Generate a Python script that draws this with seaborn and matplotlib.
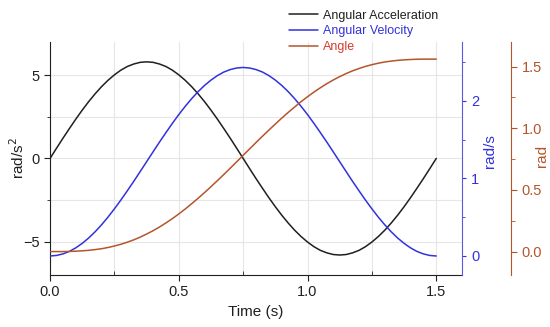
import numpy as np
import pandas as pd
import matplotlib
matplotlib.use("Agg")
import matplotlib.pyplot as plt
from matplotlib.ticker import MultipleLocator
import seaborn as sns

# values (every 0.025 s)
time_s = [0.000, 0.025, 0.050, 0.075, 0.100, 0.125, 0.150, 0.175, 0.200, 0.225,
          0.250, 0.275, 0.300, 0.325, 0.350, 0.375, 0.400, 0.425, 0.450, 0.475,
          0.500, 0.525, 0.550, 0.575, 0.600, 0.625, 0.650, 0.675, 0.700, 0.725,
          0.750, 0.775, 0.800, 0.825, 0.850, 0.875, 0.900, 0.925, 0.950, 0.975,
          1.000, 1.025, 1.050, 1.075, 1.100, 1.125, 1.150, 1.175, 1.200, 1.225,
          1.250, 1.275, 1.300, 1.325, 1.350, 1.375, 1.400, 1.425, 1.450, 1.475,
          1.500]
acceleration = [0.00, 0.61, 1.21, 1.79, 2.36, 2.90, 3.41, 3.88, 4.31, 4.69,
                5.02, 5.30, 5.52, 5.67, 5.77, 5.80, 5.77, 5.67, 5.52, 5.30,
                5.02, 4.69, 4.31, 3.88, 3.41, 2.90, 2.36, 1.79, 1.21, 0.61,
                0.00, -0.61, -1.21, -1.79, -2.36, -2.90, -3.41, -3.88, -4.31, -4.69,
                -5.02, -5.30, -5.52, -5.67, -5.77, -5.80, -5.77, -5.67, -5.52, -5.30,
                -5.02, -4.69, -4.31, -3.88, -3.41, -2.90, -2.36, -1.79, -1.21, -0.61,
                0.00]
velocity = [0.000, 0.007, 0.027, 0.059, 0.105, 0.163, 0.232, 0.312, 0.402, 0.501,
            0.608, 0.721, 0.840, 0.962, 1.088, 1.215, 1.342, 1.468, 1.590, 1.709,
            1.823, 1.929, 2.028, 2.118, 2.198, 2.267, 2.325, 2.371, 2.403, 2.423,
            2.430, 2.423, 2.403, 2.371, 2.325, 2.267, 2.198, 2.118, 2.028, 1.929,
            1.823, 1.709, 1.590, 1.468, 1.342, 1.215, 1.088, 0.962, 0.840, 0.721,
            0.608, 0.501, 0.402, 0.312, 0.232, 0.163, 0.105, 0.059, 0.027, 0.007,
            0.000]
angle = [0.000, 0.000, 0.000, 0.001, 0.003, 0.006, 0.010, 0.016, 0.023, 0.033,
         0.045, 0.059, 0.076, 0.095, 0.117, 0.142, 0.169, 0.199, 0.232, 0.267,
         0.305, 0.345, 0.388, 0.432, 0.478, 0.526, 0.575, 0.625, 0.676, 0.728,
         0.780, 0.832, 0.884, 0.935, 0.985, 1.034, 1.082, 1.128, 1.172, 1.215,
         1.255, 1.293, 1.328, 1.361, 1.391, 1.418, 1.443, 1.465, 1.484, 1.501,
         1.515, 1.527, 1.537, 1.544, 1.550, 1.554, 1.557, 1.559, 1.560, 1.560,
         1.560]
labels = ["Angular Acceleration", "Angular Velocity", "Angle"]

df = pd.DataFrame({"t": time_s, "acc": acceleration, "vel": velocity, "ang": angle})

BLACK = "#202020"
BLUE = "#3232dc"
BROWN = "#b4552d"
RED_TXT = "#d83a2c"

sns.set_style("white")
plt.rcParams["font.family"] = ["Liberation Sans", "DejaVu Sans"]

fig = plt.figure(figsize=(5.5, 3.27), dpi=100)
ax = fig.add_axes([0.091, 0.159, 0.749, 0.713])
ax2 = ax.twinx()
ax3 = ax.twinx()
ax3.spines["right"].set_position(("outward", 35.3))

sns.lineplot(data=df, x="t", y="acc", ax=ax, color=BLACK, lw=1.1, label=labels[0], legend=False)
sns.lineplot(data=df, x="t", y="vel", ax=ax2, color=BLUE, lw=1.1, label=labels[1], legend=False)
sns.lineplot(data=df, x="t", y="ang", ax=ax3, color=BROWN, lw=1.1, label=labels[2], legend=False)

ax.set_xlim(0, 1.6)
ax.set_ylim(-7, 7)
ax2.set_ylim(-0.245, 2.76)
ax3.set_ylim(-0.19, 1.70)

ax.xaxis.set_major_locator(MultipleLocator(0.5))
ax.xaxis.set_minor_locator(MultipleLocator(0.25))
ax.yaxis.set_major_locator(MultipleLocator(5))
ax.yaxis.set_minor_locator(MultipleLocator(2.5))
ax2.yaxis.set_major_locator(MultipleLocator(1))
ax2.yaxis.set_minor_locator(MultipleLocator(0.5))
ax3.yaxis.set_major_locator(MultipleLocator(0.5))
ax3.yaxis.set_minor_locator(MultipleLocator(0.25))

ax.grid(True, which="both", color="#e6e6e6", lw=0.8)
ax.set_axisbelow(True)

for a in (ax, ax2, ax3):
    for s in a.spines.values():
        s.set_visible(False)
ax.spines["left"].set_visible(True)
ax.spines["bottom"].set_visible(True)
ax.spines["left"].set_color(BLACK)
ax.spines["bottom"].set_color(BLACK)
ax2.spines["right"].set_visible(True)
ax2.spines["right"].set_color("#5a5ae0")
ax3.spines["right"].set_visible(True)
ax3.spines["right"].set_color(BROWN)

ax.tick_params(axis="x", which="major", direction="out", length=4, labelsize=10.5, colors=BLACK, bottom=True)
ax.tick_params(axis="x", which="minor", direction="in", length=3, color=BLACK, bottom=True)
ax.tick_params(axis="y", which="major", direction="out", length=4, labelsize=10.5, colors=BLACK, left=True)
ax.tick_params(axis="y", which="minor", direction="out", length=2, color=BLACK, left=True)
ax2.tick_params(axis="y", which="major", direction="out", length=3, labelsize=10.5, colors=BLUE, right=True)
ax2.tick_params(axis="y", which="minor", direction="out", length=2, color=BLUE, right=True)
ax3.tick_params(axis="y", which="major", direction="out", length=4, labelsize=10.5, colors=BROWN, right=True)
ax3.tick_params(axis="y", which="minor", direction="out", length=3, color=BROWN, right=True)

ax.set_xlabel("Time (s)", fontsize=11, color=BLACK)
ax.set_ylabel("rad/s$^2$", fontsize=11, color=BLACK)
ax2.set_ylabel("rad/s", fontsize=11, color=BLUE)
ax3.set_ylabel("rad", fontsize=11, color=BROWN)
ax.yaxis.set_label_coords(-0.056, 0.5)
ax2.yaxis.set_label_coords(1.052, 0.53)
ax3.yaxis.set_label_coords(1.178, 0.51)

handles = ax.get_lines()[:1] + ax2.get_lines()[:1] + ax3.get_lines()[:1]
leg = fig.legend(handles, labels, loc="upper left", bbox_to_anchor=(0.505, 1.005),
                 frameon=False, fontsize=9, handlelength=2.3, handletextpad=0.4,
                 labelspacing=0.3)
for txt, c in zip(leg.get_texts(), [BLACK, BLUE, RED_TXT]):
    txt.set_color(c)

fig.savefig("out.png", dpi=100)
